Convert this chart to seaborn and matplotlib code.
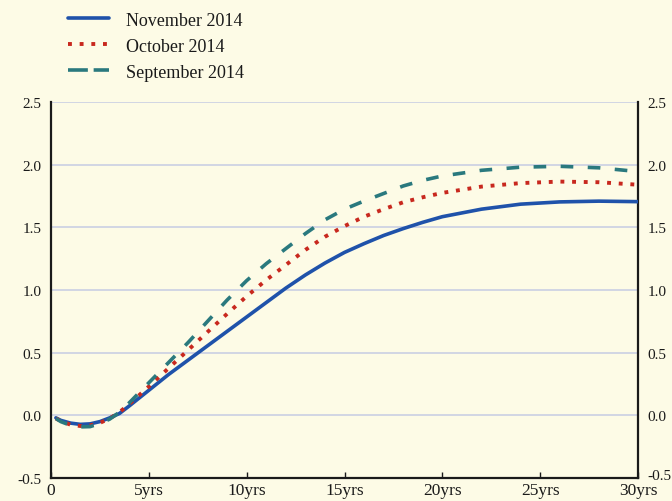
import matplotlib
matplotlib.use("Agg")
import matplotlib.pyplot as plt
import matplotlib.transforms as mtransforms
from matplotlib.lines import Line2D
import seaborn as sns
import pandas as pd

# Yield-curve spreads by maturity (years)
maturity = [0.25, 0.5, 1, 1.5, 2, 2.5, 3, 3.5, 4, 5, 6, 7, 8, 9, 10, 11, 12, 13, 14,
            15, 16, 17, 18, 19, 20, 22, 24, 26, 28, 30]
nov_2014 = [-0.02, -0.04, -0.062, -0.072, -0.068, -0.05, -0.02, 0.015, 0.075, 0.2,
            0.325, 0.44, 0.555, 0.67, 0.785, 0.9, 1.015, 1.12, 1.215, 1.30, 1.37,
            1.435, 1.49, 1.54, 1.585, 1.645, 1.685, 1.703, 1.709, 1.705]
oct_2014 = [-0.025, -0.045, -0.075, -0.085, -0.08, -0.06, -0.025, 0.025, 0.09, 0.23,
            0.375, 0.52, 0.665, 0.81, 0.95, 1.08, 1.2, 1.32, 1.425, 1.51, 1.585,
            1.645, 1.70, 1.74, 1.775, 1.825, 1.853, 1.865, 1.86, 1.84]
sep_2014 = [-0.025, -0.05, -0.08, -0.092, -0.09, -0.065, -0.03, 0.025, 0.1, 0.26,
            0.42, 0.58, 0.75, 0.92, 1.075, 1.21, 1.33, 1.45, 1.56, 1.645, 1.71,
            1.77, 1.83, 1.875, 1.91, 1.955, 1.98, 1.987, 1.975, 1.945]

series_names = ["November 2014", "October 2014", "September 2014"]
series_values = [nov_2014, oct_2014, sep_2014]
x_ticks = [0, 5, 10, 15, 20, 25, 30]
x_tick_labels = ["0", "5yrs", "10yrs", "15yrs", "20yrs", "25yrs", "30yrs"]
y_ticks = [-0.5, 0.0, 0.5, 1.0, 1.5, 2.0, 2.5]

colors = ["#1f52aa", "#c8281e", "#2a797e"]
line_widths = [2.6, 2.8, 2.6]
dash_patterns = [None, (1.0, 2.0), (3.5, 4.0)]
legend_dashes = [None, (1.0, 2.0), (5.5, 1.6)]

frames = [pd.DataFrame({"maturity": maturity, "value": vals, "series": name})
          for name, vals in zip(series_names, series_values)]
data = pd.concat(frames, ignore_index=True)

sns.set_theme(style="white")
bg = "#fdfbe6"
plt.rcParams["font.family"] = ["Liberation Serif", "DejaVu Serif"]

fig = plt.figure(figsize=(6.72, 5.02), dpi=100, facecolor=bg)
ax = fig.add_axes([0.0759, 0.0458, 0.8735, 0.749])
ax.set_facecolor(bg)

# grid first so the curves sit on top
for yv in y_ticks:
    ax.axhline(yv, color="#c6cbe3", lw=1.1, zorder=0)

for name, col, lw, dp in zip(series_names, colors, line_widths, dash_patterns):
    sub = data[data["series"] == name]
    sns.lineplot(data=sub, x="maturity", y="value", color=col, lw=lw, ax=ax,
                 legend=False, zorder=3)
    line = ax.lines[-1]
    line.set_solid_joinstyle("round")
    if dp is not None:
        line.set_dashes(dp)
        line.set_dash_capstyle("butt")

ax.set_xlim(0, 30)
ax.set_ylim(-0.5, 2.5)
ax.set_xticks(x_ticks)
ax.set_xticklabels(x_tick_labels)
ax.set_yticks(y_ticks)
ax.set_yticklabels([f"{v:.1f}" for v in y_ticks])
ax.set_xlabel("")
ax.set_ylabel("")

for side in ["left", "right", "bottom"]:
    ax.spines[side].set_visible(True)
    ax.spines[side].set_color("#1a1a1a")
    ax.spines[side].set_linewidth(1.6)
ax.spines["top"].set_visible(False)

ax.tick_params(axis="x", direction="in", length=4, width=1.0, color="#1a1a1a",
               labelsize=12.5, pad=3, labelcolor="#1a1a1a", bottom=True)
ax.tick_params(axis="y", length=0, labelsize=11, pad=7, labelcolor="#1a1a1a",
               left=False, right=False, labelleft=True, labelright=True)

# lift the lowest right-hand label a little so it clears "30yrs"
lift = mtransforms.ScaledTranslation(0, 3 / 72, fig.dpi_scale_trans)
lowest = ax.yaxis.get_major_ticks()[0]
lowest.label2.set_transform(lowest.label2.get_transform() + lift)

handles = []
for col, lw, dp in zip(colors, line_widths, legend_dashes):
    h = Line2D([0], [0], color=col, lw=lw)
    if dp is not None:
        h.set_dashes(dp)
        h.set_dash_capstyle("butt")
    handles.append(h)

fig.legend(handles, series_names, loc="upper left", bbox_to_anchor=(0.082, 1.0),
           frameon=False, fontsize=13, handlelength=2.3, handletextpad=0.9,
           labelspacing=0.5, borderaxespad=0.3, labelcolor="#1a1a1a")

fig.savefig("out.png", dpi=100, facecolor=bg)
